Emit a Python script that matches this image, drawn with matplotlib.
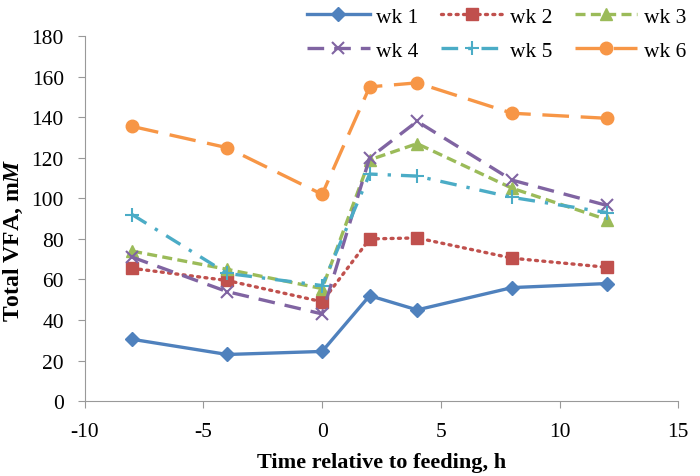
import matplotlib
matplotlib.use("Agg")
import matplotlib.pyplot as plt

plt.rcParams['font.family'] = ['Liberation Serif', 'DejaVu Serif']
plt.rcParams['axes.unicode_minus'] = False
plt.rcParams['mathtext.fontset'] = 'custom'
plt.rcParams['mathtext.rm'] = 'Liberation Serif'
plt.rcParams['mathtext.it'] = 'Liberation Serif:italic'
plt.rcParams['mathtext.bf'] = 'Liberation Serif:bold'
plt.rcParams['mathtext.bfit'] = 'Liberation Serif:italic:bold'

hours = [-8, -4, 0, 2, 4, 8, 12]
wk1 = [30.5, 23, 24.5, 52, 45, 56, 58]
wk2 = [65.5, 59.5, 49, 80, 80.5, 70.5, 66]
wk3 = [74, 65, 55.5, 119, 127, 105, 89.5]
wk4 = [71, 54, 43, 120, 138, 109, 96.5]
wk5 = [92, 63, 57, 112, 111, 100.5, 93]
wk6 = [135.5, 125, 102, 155, 157, 142, 139.5]
labels = ['wk 1', 'wk 2', 'wk 3', 'wk 4', 'wk 5', 'wk 6']

fig = plt.figure(figsize=(7, 4.77), dpi=100)
ax = fig.add_axes([0.121, 0.157, 0.848, 0.765])

h1, = ax.plot(hours, wk1, color='#4F81BD', linestyle='-', lw=2.4, marker='D', ms=7, label=labels[0])
h2, = ax.plot(hours, wk2, color='#C0504D', linestyle=(0, (0.6, 1.6)), lw=2.4, dash_capstyle='round',
              marker='s', ms=9, label=labels[1])
h3, = ax.plot(hours, wk3, color='#9BBB59', linestyle=(0, (3, 1.6)), lw=2.4, marker='^', ms=9, label=labels[2])
h4, = ax.plot(hours, wk4, color='#8064A2', linestyle=(0, (5, 3)), lw=2.4, marker='x', ms=9, mew=1.5, label=labels[3])
h5, = ax.plot(hours, wk5, color='#4BACC6', linestyle=(0, (5, 3, 1, 3)), lw=2.4, marker='+', ms=10, mew=1.5, label=labels[4])
h6, = ax.plot(hours, wk6, color='#F79646', linestyle=(0, (8, 3.5)), lw=2.4, marker='o', ms=9, label=labels[5])

ax.set_xlim(-10, 15)
ax.set_ylim(0, 180)
ax.set_xticks(range(-10, 16, 5))
ax.set_yticks(range(0, 181, 20))
ax.set_xlabel('Time relative to feeding, h', fontsize=16, fontweight='bold', labelpad=8)
ax.set_ylabel('Total VFA, m$\\mathbfit{M}$', fontsize=17, fontweight='bold')
ax.yaxis.set_label_coords(-0.100, 0.444)
ax.tick_params(labelsize=15.5, direction='out', color='#999999', length=5, pad=10)
for s in ['top', 'right']:
    ax.spines[s].set_visible(False)
for s in ['left', 'bottom']:
    ax.spines[s].set_color('#999999')

# column-wise fill in matplotlib, so order handles to read row by row
order = [h1, h4, h2, h5, h3, h6]
ax.legend(order, [h.get_label() for h in order], loc='upper right',
          bbox_to_anchor=(1.008, 1.025), bbox_transform=fig.transFigure,
          ncol=3, frameon=False, fontsize=15.5, handlelength=2.9, columnspacing=1.05,
          labelspacing=0.65, handletextpad=0.3)

fig.savefig('out.png', dpi=100)
